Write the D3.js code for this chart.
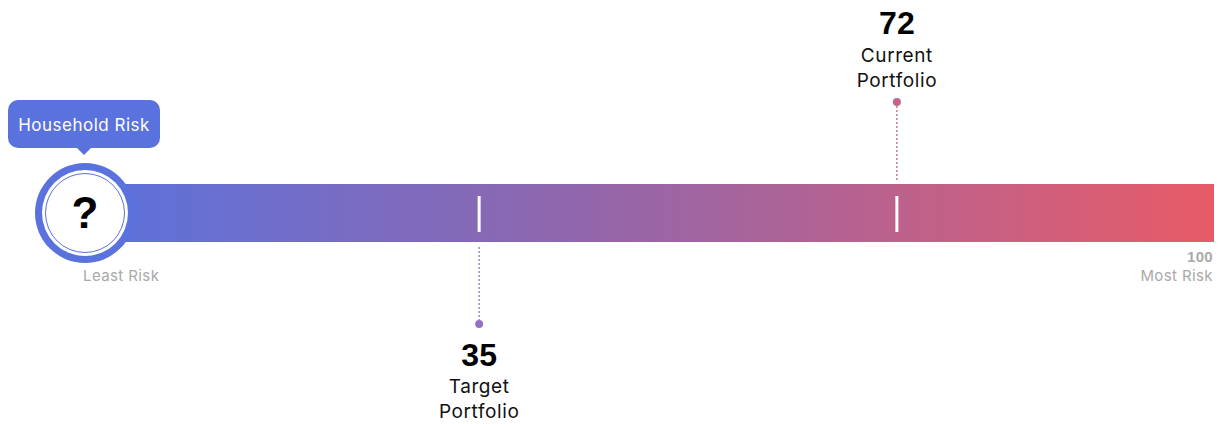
<!DOCTYPE html>
<html>
<head>
<meta charset="utf-8">
<script src="https://cdn.jsdelivr.net/npm/d3@7"></script>
<style>
  body { margin: 0; background: #fff; }
  svg { display: block; }
</style>
</head>
<body>
<div id="chart"></div>
<script>
// risk scale data
var domainMin = 0, domainMax = 100;
var markerNames = ["Target", "Current"];
var markerValues = [35, 72];
var markerLabels = [["Target", "Portfolio"], ["Current", "Portfolio"]];
var markerSides = ["below", "above"];
var markerColors = ["#9471c6", "#c4638d"];
var endLabels = ["Least Risk", "Most Risk"];
var householdLabel = "Household Risk";
var householdValue = "?";

var w = 1220, h = 424;
var barTop = 184, barH = 58, barMid = barTop + barH / 2;
var labelFont = "Inter, 'Noto Sans', sans-serif";
var numFont = "'Liberation Sans', Arial, sans-serif";

var svg = d3.select("#chart").append("svg")
    .attr("width", w)
    .attr("height", h)

var x = d3.scaleLinear()
    .domain([domainMin, domainMax])
    .range([84, 1213])

var defs = svg.append("defs");
var grad = defs.append("linearGradient")
    .attr("id", "riskGrad")
    .attr("x1", "0%").attr("x2", "100%")
    .attr("y1", "0%").attr("y2", "0%");
grad.append("stop").attr("offset", "0%").attr("stop-color", "#5a72dd");
grad.append("stop").attr("offset", "45%").attr("stop-color", "#9366ab");
grad.append("stop").attr("offset", "75%").attr("stop-color", "#c06188");
grad.append("stop").attr("offset", "100%").attr("stop-color", "#e85b68");

svg.append("rect")
    .attr("x", x(domainMin))
    .attr("y", barTop)
    .attr("width", x(domainMax) - x(domainMin) + 1)
    .attr("height", barH)
    .style("fill", "url(#riskGrad)")

// end labels
svg.append("text")
    .attr("x", x(domainMin) - 1)
    .attr("y", 281)
    .style("font-family", labelFont)
    .style("font-size", "15px")
    .style("letter-spacing", "0.4px")
    .style("fill", "#a9a9a9")
    .text(endLabels[0])

svg.append("text")
    .attr("x", x(domainMax))
    .attr("y", 262)
    .attr("text-anchor", "end")
    .style("font-family", numFont)
    .style("font-weight", "bold")
    .style("font-size", "15px")
    .style("letter-spacing", "0.3px")
    .style("fill", "#a9a9a9")
    .text(domainMax)

svg.append("text")
    .attr("x", x(domainMax))
    .attr("y", 281)
    .attr("text-anchor", "end")
    .style("font-family", labelFont)
    .style("font-size", "15px")
    .style("letter-spacing", "0.4px")
    .style("fill", "#a9a9a9")
    .text(endLabels[1])

// markers
var markers = markerValues.map(function(v, i){
  return {name: markerNames[i], value: v, lines: markerLabels[i], side: markerSides[i], color: markerColors[i]};
});

var g = svg.selectAll(".marker")
  .data(markers)
  .enter()
    .append("g")
      .attr("class", "marker")
      .attr("transform", function(d){ return "translate(" + x(d.value) + ",0)" })

g.append("rect")
    .attr("x", -1.5)
    .attr("y", 196)
    .attr("width", 3)
    .attr("height", 36)
    .style("fill", "#fff")

g.append("line")
    .attr("x1", 0).attr("x2", 0)
    .attr("y1", function(d){ return d.side == "below" ? 247 : 106 })
    .attr("y2", function(d){ return d.side == "below" ? 321 : 180 })
    .style("stroke", function(d){ return d.color })
    .style("stroke-width", 1.3)
    .style("stroke-dasharray", "2,2")

g.append("circle")
    .attr("cx", 0)
    .attr("cy", function(d){ return d.side == "below" ? 324 : 102 })
    .attr("r", 4)
    .style("fill", function(d){ return d.color })

g.append("text")
    .attr("text-anchor", "middle")
    .attr("y", function(d){ return d.side == "below" ? 366 : 34 })
    .style("font-family", numFont)
    .style("font-weight", "bold")
    .style("font-size", "32px")
    .style("fill", "#000")
    .text(function(d){ return d.value })

g.each(function(d){
  var base = d.side == "below" ? 393 : 62;
  d3.select(this).selectAll(".lbl")
    .data(d.lines)
    .enter()
      .append("text")
        .attr("class", "lbl")
        .attr("text-anchor", "middle")
        .attr("y", function(t, j){ return base + j * 25 })
        .style("font-family", labelFont)
        .style("font-size", "19px")
        .style("letter-spacing", "0.6px")
        .style("fill", "#111")
        .text(function(t){ return t })
})

// household circle at the low end
var cx = x(domainMin) + 1, cy = barMid;
svg.append("circle")
    .attr("cx", cx).attr("cy", cy).attr("r", 50)
    .style("fill", "#5a72dd")
svg.append("circle")
    .attr("cx", cx).attr("cy", cy).attr("r", 43)
    .style("fill", "#fff")
svg.append("circle")
    .attr("cx", cx).attr("cy", cy).attr("r", 39.5)
    .style("fill", "#fff")
    .style("stroke", "#5a72dd")
    .style("stroke-width", 1)
svg.append("text")
    .attr("x", cx)
    .attr("y", cy + 15)
    .attr("text-anchor", "middle")
    .style("font-family", numFont)
    .style("font-weight", "bold")
    .style("font-size", "44px")
    .style("fill", "#000")
    .text(householdValue)

// tooltip bubble
var tip = svg.append("g")
    .attr("transform", "translate(" + (cx - 1) + ",0)")
tip.append("rect")
    .attr("x", -76).attr("y", 100)
    .attr("width", 152).attr("height", 48)
    .attr("rx", 10)
    .style("fill", "#5a72dd")
tip.append("path")
    .attr("d", "M-8,147 L0,155 L8,147 Z")
    .style("fill", "#5a72dd")
tip.append("text")
    .attr("text-anchor", "middle")
    .attr("y", 131)
    .style("font-family", labelFont)
    .style("font-size", "17px")
    .style("letter-spacing", "0.5px")
    .style("fill", "#fff")
    .text(householdLabel)
</script>
</body>
</html>
